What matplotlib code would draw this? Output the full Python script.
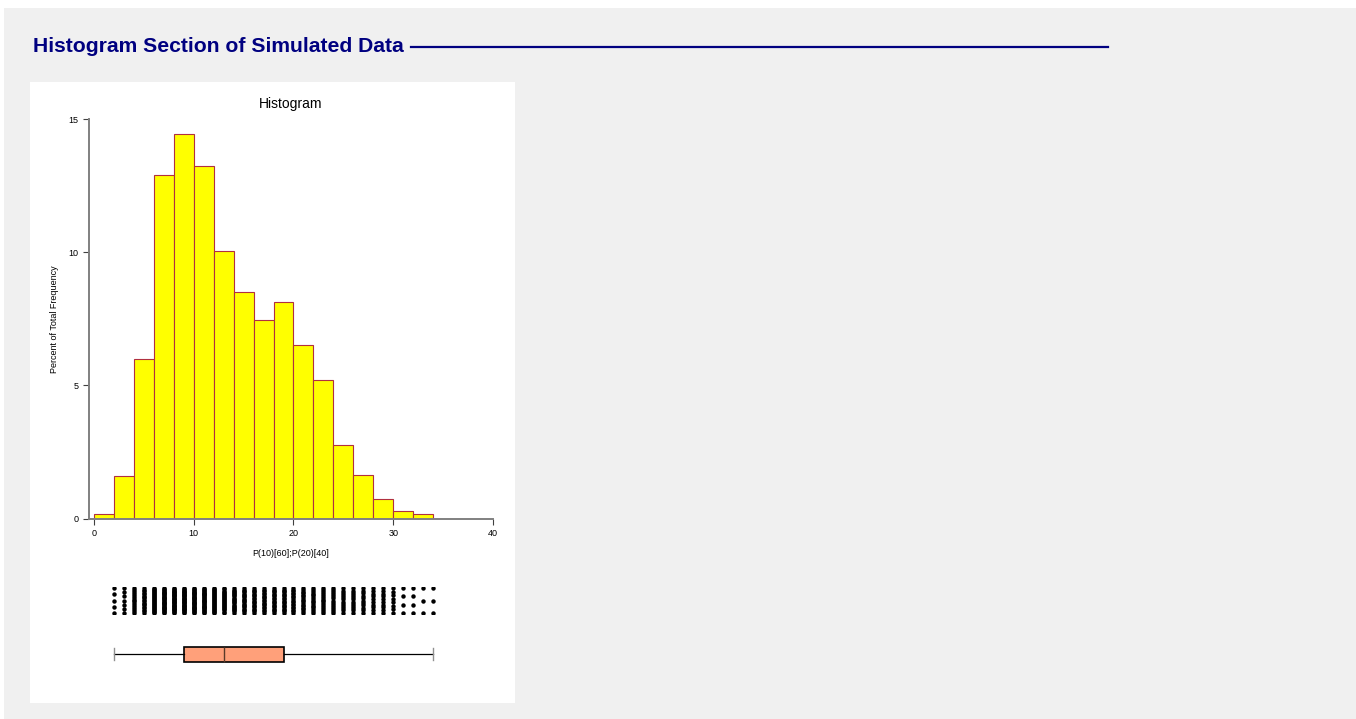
import matplotlib
matplotlib.use("Agg")
import matplotlib.pyplot as plt
import numpy as np
from matplotlib.patches import Rectangle
from matplotlib.lines import Line2D

plt.rcParams['font.family'] = ['Liberation Sans', 'DejaVu Sans']

# histogram: bin edges (width 2) and percent of total frequency
bin_edges = [0, 2, 4, 6, 8, 10, 12, 14, 16, 18, 20, 22, 24, 26, 28, 30, 32, 34]
bin_pct = [0.17, 1.58, 5.98, 12.9, 14.46, 13.23, 10.05, 8.5, 7.45, 8.12,
           6.51, 5.22, 2.77, 1.65, 0.73, 0.28, 0.17]

# dot plot: number of dots shown at each integer value
dot_values = list(range(2, 35))
dot_counts = [5, 7, 14, 18, 26, 30, 32, 32, 30, 29, 26, 24, 22, 20, 19, 18,
              19, 19, 17, 16, 15, 14, 13, 12, 12, 11, 10, 10, 8, 4, 4, 3, 3]

# box plot summary
box_min, box_q1, box_med, box_q3, box_max = 2, 9, 13, 19, 34

W, H = 1356, 719
fig = plt.figure(figsize=(W / 100, H / 100), dpi=100, facecolor='#f0f0f0')


def fx(px):
    return px / W


def fy(py):
    return 1 - py / H


# white page edges and white chart panel
fig.patches.append(Rectangle((0, fy(8)), 1, 1 - fy(8), transform=fig.transFigure,
                             facecolor='white', edgecolor='none', zorder=-2))
fig.patches.append(Rectangle((0, 0), fx(4), 1, transform=fig.transFigure,
                             facecolor='white', edgecolor='none', zorder=-2))
fig.patches.append(Rectangle((fx(30), fy(703)), fx(515) - fx(30), fy(82) - fy(703),
                             transform=fig.transFigure, facecolor='white',
                             edgecolor='none', zorder=-1))

# section heading
fig.text(fx(33), fy(46), 'Histogram Section of Simulated Data', color='#000080',
         fontsize=15.2, fontweight='bold', va='center', ha='left')
fig.add_artist(Line2D([fx(411), fx(1108)], [fy(46.5), fy(46.5)], color='#000080',
                      linewidth=1.6, transform=fig.transFigure))

gray = '#808080'
x_left, x_right = 89, 493

# histogram
ax = fig.add_axes([fx(x_left), fy(518.5), fx(x_right) - fx(x_left), fy(119.3) - fy(518.5)])
ax.set_facecolor('white')
ax.bar(bin_edges[:-1], bin_pct, width=np.diff(bin_edges), align='edge',
       color='#ffff00', edgecolor='#b03040', linewidth=0.8)
ax.set_xlim(-0.5, 40)
ax.set_ylim(0, 15)
ax.set_xticks([0, 10, 20, 30, 40])
ax.set_yticks([0, 5, 10, 15])
for s in ['top', 'right']:
    ax.spines[s].set_visible(False)
for s in ['left', 'bottom']:
    ax.spines[s].set_color(gray)
    ax.spines[s].set_linewidth(1.4)
ax.tick_params(colors='black', labelsize=6.5, length=4, width=0.8, direction='out')
ax.tick_params(axis='both', color='#404040')
ax.set_title('Histogram', fontsize=10, pad=8)
ax.set_ylabel('Percent of Total Frequency', fontsize=6.5, labelpad=7)
ax.set_xlabel('P(10)[60];P(20)[40]', fontsize=6.5, labelpad=8)

# dot plot
axd = fig.add_axes([fx(x_left), fy(614), fx(x_right) - fx(x_left), fy(587) - fy(614)])
axd.set_xlim(-0.5, 40)
axd.set_ylim(-0.06, 1.06)
for v, n in zip(dot_values, dot_counts):
    ys = np.linspace(0, 1, n)
    axd.plot([v] * n, ys, 'o', color='black', markersize=3.2, markeredgewidth=0)
axd.axis('off')

# box plot
axb = fig.add_axes([fx(x_left), fy(669), fx(x_right) - fx(x_left), fy(639) - fy(669)])
axb.set_xlim(-0.5, 40)
axb.set_ylim(0.5, 1.5)
stats = [{'whislo': box_min, 'q1': box_q1, 'med': box_med, 'q3': box_q3,
          'whishi': box_max, 'fliers': []}]
axb.bxp(stats, orientation='horizontal', widths=0.5, capwidths=0.43,
        patch_artist=True, showfliers=False,
        boxprops=dict(facecolor='#ffa07a', edgecolor='black', linewidth=1.2),
        medianprops=dict(color='#5a3a2a', linewidth=1.0),
        whiskerprops=dict(color='black', linewidth=0.9),
        capprops=dict(color='#909090', linewidth=1.0))
axb.axis('off')

fig.savefig('out.png', dpi=100, facecolor=fig.get_facecolor())
